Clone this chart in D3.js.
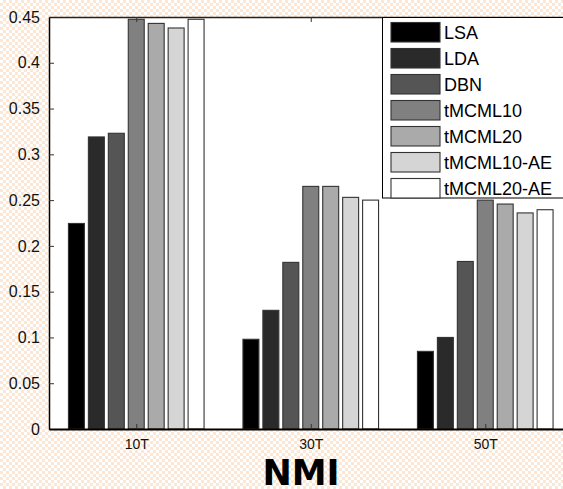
<!DOCTYPE html>
<html><head><meta charset="utf-8">
<script src="https://cdn.jsdelivr.net/npm/d3@7"></script>
<style>html,body{margin:0;padding:0;background:#fff;}svg{display:block;}</style>
</head><body>
<svg id="chart" width="563" height="489"></svg>
<script>
const categories = ["10T", "30T", "50T"];
const seriesNames = ["LSA", "LDA", "DBN", "tMCML10", "tMCML20", "tMCML10-AE", "tMCML20-AE"];
const LSA = [0.2245, 0.098, 0.0848];
const LDA = [0.319, 0.1296, 0.100];
const DBN = [0.323, 0.182, 0.183];
const tMCML10 = [0.4475, 0.265, 0.250];
const tMCML20 = [0.443, 0.265, 0.2457];
const tMCML10_AE = [0.438, 0.253, 0.236];
const tMCML20_AE = [0.4475, 0.250, 0.2395];
const seriesValues = [LSA, LDA, DBN, tMCML10, tMCML20, tMCML10_AE, tMCML20_AE];
const yTicks = [0, 0.05, 0.1, 0.15, 0.2, 0.25, 0.3, 0.35, 0.4, 0.45];
const yTickLabels = ["0", "0.05", "0.1", "0.15", "0.2", "0.25", "0.3", "0.35", "0.4", "0.45"];
const colors = ["#000000", "#2a2a2a", "#555555", "#808080", "#aaaaaa", "#d5d5d5", "#ffffff"];
const xTitle = "NMI";

const svg = d3.select("#chart");
// checkered background
const defs = svg.append("defs");
const pat = defs.append("pattern").attr("id", "chk").attr("patternUnits", "userSpaceOnUse")
  .attr("width", 6).attr("height", 6);
pat.append("rect").attr("width", 6).attr("height", 6).attr("fill", "#fde6d2");
pat.append("rect").attr("x", 0).attr("y", 0).attr("width", 3).attr("height", 3).attr("fill", "#ffffff");
pat.append("rect").attr("x", 3).attr("y", 3).attr("width", 3).attr("height", 3).attr("fill", "#ffffff");
svg.append("rect").attr("width", 563).attr("height", 489).attr("fill", "url(#chk)");

const L = 49, T = 17, B = 429;
// x domain 0.5..3.5 (MATLAB style), category spacing 175px
const x = d3.scaleLinear().domain([0.5, 3.5]).range([L, L + 3 * 174.5]);
const R = x(3.5);
const y = d3.scaleLinear().domain([0, 0.45]).range([B, T]);

svg.append("rect").attr("x", L).attr("y", T).attr("width", R - L).attr("height", B - T).attr("fill", "#fff");

const nS = seriesNames.length;
const groupW = 0.8;
const step = groupW / nS;
const barW = step * 0.8;

const g = svg.append("g");
seriesValues.forEach((vals, si) => {
  g.selectAll(null).data(vals).enter().append("rect")
    .attr("x", (d, ci) => x(ci + 1 - groupW / 2 + step * si + (step - barW) / 2))
    .attr("width", x(barW) - x(0))
    .attr("y", d => y(d))
    .attr("height", d => B - y(d))
    .attr("fill", colors[si])
    .attr("stroke", "#333").attr("stroke-width", 1.1);
});

// axes
const yAxisL = d3.axisLeft(y).tickValues(yTicks).tickFormat((d, i) => yTickLabels[i]).tickSizeInner(-5).tickSizeOuter(0).tickPadding(9);
const ay = svg.append("g").attr("transform", `translate(${L},0)`).call(yAxisL);
ay.select(".domain").attr("stroke", "#000").attr("stroke-width", 1.5);
ay.selectAll(".tick line").attr("stroke", "#333");
ay.selectAll(".tick text").attr("font-family", "Liberation Sans, Arial, sans-serif").attr("font-size", 16).attr("fill", "#111");

const xAxisB = d3.axisBottom(x).tickValues([1, 2, 3]).tickFormat((d, i) => categories[i]).tickSizeInner(-5).tickSizeOuter(0).tickPadding(10);
const ax = svg.append("g").attr("transform", `translate(0,${B})`).call(xAxisB);
ax.select(".domain").attr("stroke", "#000").attr("stroke-width", 2.2);
ax.selectAll(".tick line").attr("stroke", "#333");
ax.selectAll(".tick text").attr("font-family", "Liberation Sans, Arial, sans-serif").attr("font-size", 14).attr("fill", "#111");

const xAxisT = d3.axisTop(x).tickValues([1, 2, 3]).tickFormat("").tickSizeInner(-5).tickSizeOuter(0);
const at = svg.append("g").attr("transform", `translate(0,${T})`).call(xAxisT);
at.select(".domain").attr("stroke", "#222").attr("stroke-width", 1.5);
at.selectAll(".tick line").attr("stroke", "#333");

// legend
const lg = svg.append("g");
lg.append("rect").attr("x", 382.5).attr("y", 17.5).attr("width", 200).attr("height", 180.5)
  .attr("fill", "#fff").attr("stroke", "#000").attr("stroke-width", 1);
seriesNames.forEach((name, i) => {
  const yy = 22.5 + i * 26;
  lg.append("rect").attr("x", 391).attr("y", yy).attr("width", 49).attr("height", 19.5)
    .attr("fill", colors[i]).attr("stroke", "#333").attr("stroke-width", 1.1);
  lg.append("text").attr("x", 444).attr("y", yy + 10).attr("dy", "0.36em")
    .attr("font-family", "Liberation Sans, Arial, sans-serif").attr("font-size", 18).attr("fill", "#000")
    .text(name);
});

svg.append("text").attr("x", 301).attr("y", 485).attr("text-anchor", "middle")
  .attr("font-family", "DejaVu Sans, sans-serif").attr("font-weight", "bold").attr("font-size", 35)
  .attr("fill", "#000").text(xTitle);
</script>
</body></html>
